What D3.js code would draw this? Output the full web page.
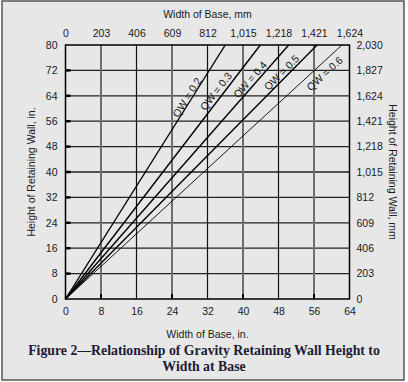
<!DOCTYPE html>
<html><head><meta charset="utf-8">
<script src="https://cdn.jsdelivr.net/npm/d3@7"></script>
<style>body{margin:0;background:#fff}</style>
</head><body><svg id="c" width="408" height="382"></svg>
<script>
// Data
const qwLabels = ["QW = 0.2","QW = 0.3","QW = 0.4","QW = 0.5","QW = 0.6"];
const baseAtTop = [36.0, 43.9, 50.3, 56.7, 62.3];   // width of base (in.) at height 80 in.
const topHeight = 80;
const labelBase = [27.4, 33.9, 41.6, 48.7, 58.4];    // label centre: width (in.)
const labelHeight = [63.5, 65.4, 69.1, 71.3, 71.0];  // label centre: height (in.)
const inTicksX = [0,8,16,24,32,40,48,56,64];
const inTicksY = [0,8,16,24,32,40,48,56,64,72,80];
const mmTicksX = [0,203,406,609,812,1015,1218,1421,1624];
const mmTicksY = [0,203,406,609,812,1015,1218,1421,1624,1827,2030];

const SANS = "'Liberation Sans', Arial, sans-serif";
const svg = d3.select("#c").style("font-family", SANS);
const L=65.5, R=349.5, T=45, B=299;
const x = d3.scaleLinear().domain([0,64]).range([L,R]);
const y = d3.scaleLinear().domain([0,80]).range([B,T]);
const xmm = d3.scaleLinear().domain([0,1624]).range([L,R]);
const ymm = d3.scaleLinear().domain([0,2030]).range([B,T]);

svg.append("rect").attr("x",2).attr("y",1).attr("width",402).attr("height",379)
  .attr("fill","#e7e7e8").attr("stroke","#555").attr("stroke-width",1.5);

const fmt = d3.format(",");
const textCol = "#1a1a1a";
// Horizontal grid
const hg = inTicksY.filter(d=>d>0&&d<80);
svg.append("g").selectAll("line").data(hg).join("line")
  .attr("x1",L).attr("x2",R).attr("y1",d=>y(d)).attr("y2",d=>y(d))
  .attr("stroke","#222").attr("stroke-width",1.3);
svg.append("g").selectAll("line").data(hg).join("line")
  .attr("x1",L).attr("x2",L+5).attr("y1",d=>y(d)).attr("y2",d=>y(d))
  .attr("stroke","#000").attr("stroke-width",2.5);
// Vertical grid
const vg = inTicksX.filter(d=>d>0&&d<64);
svg.append("g").selectAll("line").data(vg).join("line")
  .attr("x1",d=>x(d)).attr("x2",d=>x(d)).attr("y1",T).attr("y2",B)
  .attr("stroke",d=>d%16===0?"#111":"#6e6e6e").attr("stroke-width",d=>d%16===0?1.2:2);
svg.append("g").selectAll("line").data(vg.filter(d=>d%16!==0)).join("line")
  .attr("x1",d=>x(d)).attr("x2",d=>x(d)).attr("y1",B-5).attr("y2",B)
  .attr("stroke","#000").attr("stroke-width",2);

// Lines
svg.append("g").selectAll("line").data(baseAtTop).join("line")
  .attr("x1",x(0)).attr("y1",y(0)).attr("x2",d=>x(d)).attr("y2",y(topHeight))
  .attr("stroke","#000").attr("stroke-width",(d,i)=>i===4?0.9:1.4);

// Labels
baseAtTop.forEach((w,i)=>{
  const px = x(labelBase[i]), py = y(labelHeight[i]);
  const ang = Math.atan2(y(topHeight)-y(0), x(w)-x(0))*180/Math.PI;
  svg.append("text").attr("transform",`translate(${px},${py}) rotate(${ang})`)
    .attr("text-anchor","middle").attr("dy","0.35em").attr("font-size",10.5)
    .attr("fill",textCol).text(qwLabels[i]);
});

// Plot border
svg.append("rect").attr("x",L).attr("y",T).attr("width",R-L).attr("height",B-T)
  .attr("fill","none").attr("stroke","#000").attr("stroke-width",1.5);

function styleAxis(g){ g.attr("font-family",null).attr("font-size",null);
  g.select(".domain").remove(); g.selectAll(".tick line").remove();
  g.selectAll("text").style("font-size","10.5px").attr("fill",textCol).style("font-family",SANS); }
svg.append("g").attr("transform",`translate(0,${B})`)
  .call(d3.axisBottom(x).tickValues(inTicksX).tickSize(0).tickPadding(9)).call(styleAxis);
svg.append("g").attr("transform",`translate(${L},0)`)
  .call(d3.axisLeft(y).tickValues(inTicksY).tickSize(0).tickPadding(8)).call(styleAxis);
svg.append("g").attr("transform",`translate(0,${T})`)
  .call(d3.axisTop(xmm).tickValues(mmTicksX).tickFormat(fmt).tickSize(0).tickPadding(8)).call(styleAxis);
svg.append("g").attr("transform",`translate(${R},0)`)
  .call(d3.axisRight(ymm).tickValues(mmTicksY).tickFormat(fmt).tickSize(0).tickPadding(7)).call(styleAxis);

// Axis titles
svg.append("text").attr("x",(L+R)/2).attr("y",18).attr("text-anchor","middle")
  .attr("font-size",10.5).attr("fill",textCol).text("Width of Base, mm");
svg.append("text").attr("x",(L+R)/2).attr("y",338).attr("text-anchor","middle")
  .attr("font-size",10.5).attr("fill",textCol).text("Width of Base, in.");
svg.append("text").attr("transform",`translate(35,${(T+B)/2}) rotate(-90)`).attr("text-anchor","middle")
  .attr("font-size",10.5).attr("fill",textCol).text("Height of Retaining Wall, in.");
svg.append("text").attr("transform",`translate(389,${(T+B)/2}) rotate(90)`).attr("text-anchor","middle")
  .attr("font-size",10.5).attr("fill",textCol).text("Height of Retaining Wall, mm");
// Figure title
const tt = svg.append("text").attr("text-anchor","middle")
  .style("font-family","'Liberation Serif', 'Times New Roman', serif")
  .attr("font-weight","bold").attr("font-size",13.8).attr("fill","#1c1c34");
tt.append("tspan").attr("x",204).attr("y",355).text("Figure 2—Relationship of Gravity Retaining Wall Height to");
tt.append("tspan").attr("x",204).attr("y",371).text("Width at Base");
</script></body></html>
